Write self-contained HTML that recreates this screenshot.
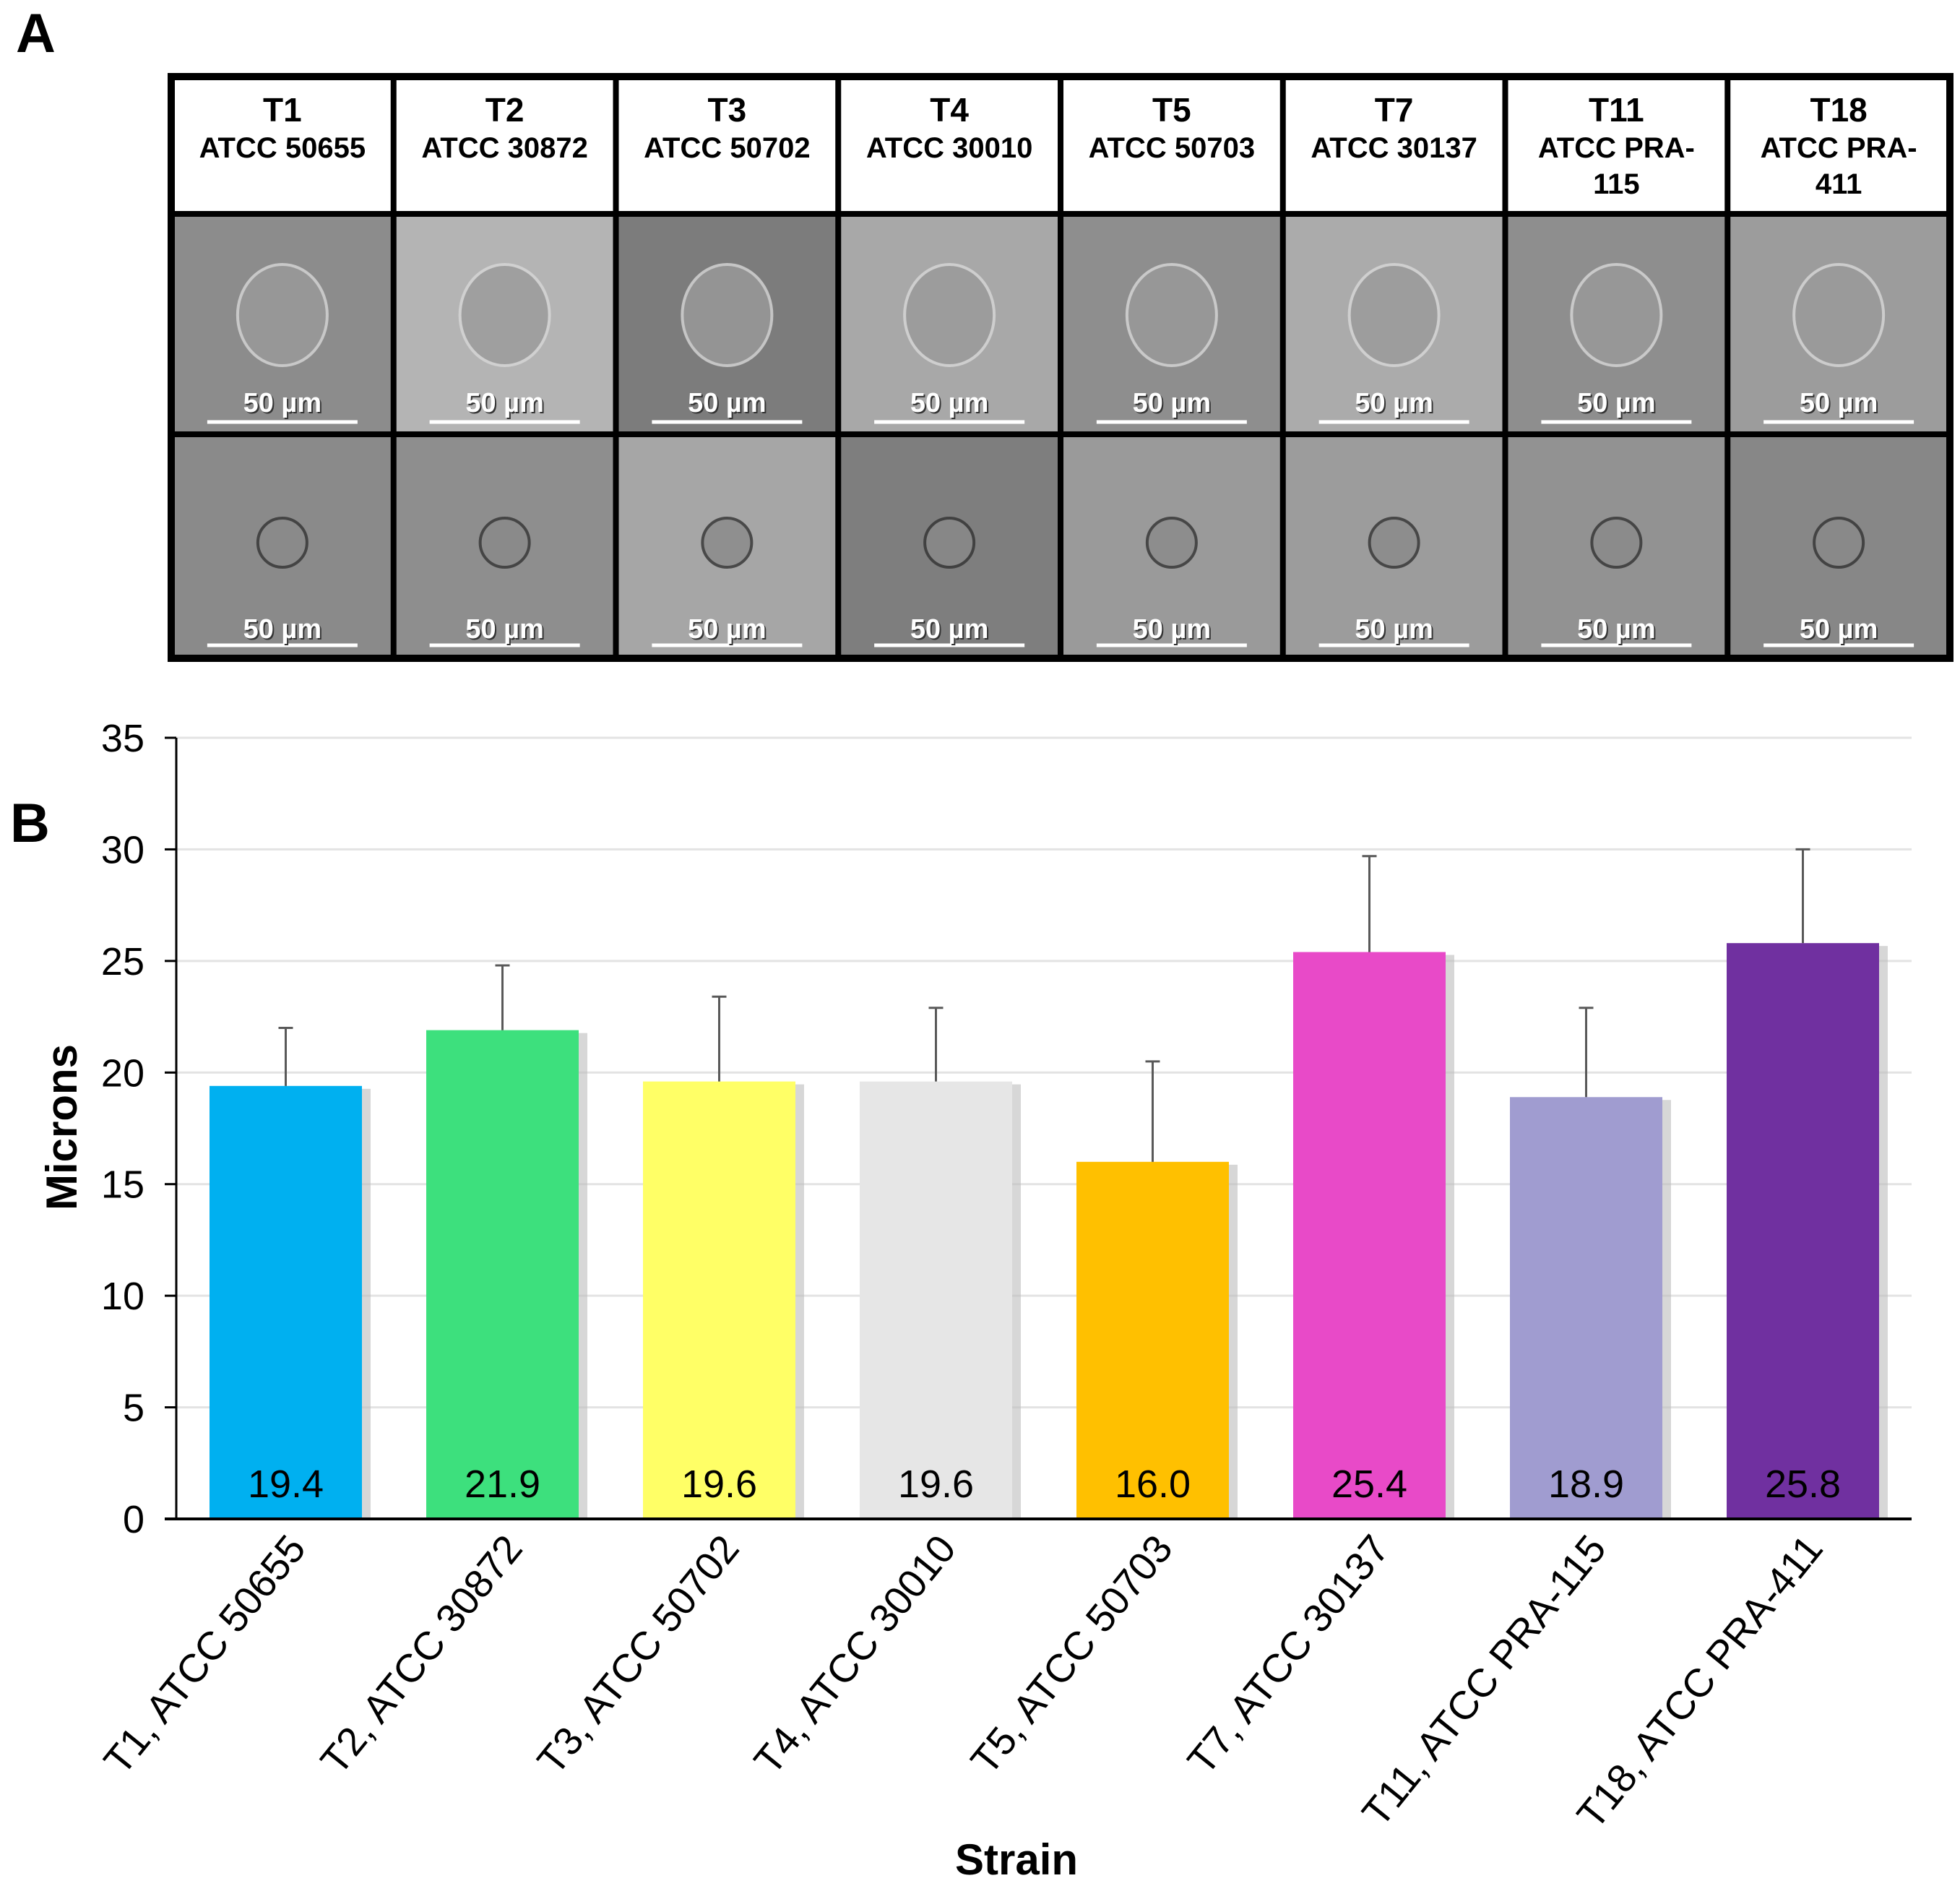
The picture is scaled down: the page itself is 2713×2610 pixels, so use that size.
<!DOCTYPE html>
<html><head><meta charset="utf-8">
<style>
html,body{margin:0;padding:0;background:#fff;}
svg{display:block;font-family:"Liberation Sans",Arial,sans-serif;}
</style></head>
<body>
<svg id="fig" width="2713" height="2610" viewBox="0 0 2713 2610" xmlns="http://www.w3.org/2000/svg">
<text x="22" y="72" font-size="76" font-weight="bold">A</text>
<g id="panelA"></g>
<text x="14" y="1165" font-size="76" font-weight="bold">B</text>
<g id="chart"></g>
</svg>
<script>
// ---- Chart data ----
const categories = ["T1, ATCC 50655","T2, ATCC 30872","T3, ATCC 50702","T4, ATCC 30010","T5, ATCC 50703","T7, ATCC 30137","T11, ATCC PRA-115","T18, ATCC PRA-411"];
const means = [19.4, 21.9, 19.6, 19.6, 16.0, 25.4, 18.9, 25.8];
const errors = [2.6, 2.9, 3.8, 3.3, 4.5, 4.3, 4.0, 4.2];
const valueLabels = ["19.4","21.9","19.6","19.6","16.0","25.4","18.9","25.8"];
const yTicks = [0,5,10,15,20,25,30,35];
const barColors = ["#00B0F0","#3DE07D","#FFFF66","#E6E6E6","#FFC000","#E84AC8","#A09CD0","#7030A0"];
// panel A headers
const headT = ["T1","T2","T3","T4","T5","T7","T11","T18"];
const headA = [["ATCC 50655"],["ATCC 30872"],["ATCC 50702"],["ATCC 30010"],["ATCC 50703"],["ATCC 30137"],["ATCC PRA-","115"],["ATCC PRA-","411"]];

const NS="http://www.w3.org/2000/svg";
function mk(tag, attrs, parent){const e=document.createElementNS(NS,tag);for(const k in attrs)e.setAttribute(k,attrs[k]);parent.appendChild(e);return e;}

// ---- Panel A ----
const pa=document.getElementById('panelA');
const L=237,R=2699,T=106,H1=296,H2=601,B=911,cw=(R-L)/8;
const bg1=["#8c8c8c","#b4b4b4","#7c7c7c","#a8a8a8","#8e8e8e","#ababab","#8e8e8e","#9c9c9c"];
const bg2=["#8a8a8a","#8e8e8e","#a6a6a6","#7e7e7e","#9a9a9a","#9c9c9c","#929292","#878787"];
for(let i=0;i<8;i++){
  const x=L+i*cw;
  const c1=mk('rect',{x:x,y:H1,width:cw,height:H2-H1,fill:bg1[i]},pa);
  
  
  const c2=mk('rect',{x:x,y:H2,width:cw,height:B-H2,fill:bg2[i]},pa);
  
  
  mk('ellipse',{cx:x+cw/2,cy:H1+140,rx:62,ry:70,fill:"#9a9a9a",stroke:"#d8d8d8","stroke-width":4,opacity:0.8},pa);
  mk('circle',{cx:x+cw/2,cy:H2+150,r:34,fill:"#8a8a8a",stroke:"#333","stroke-width":4,opacity:0.8},pa);
  const ht=mk('text',{x:x+cw/2,y:168,"text-anchor":"middle","font-size":46,"font-weight":"bold"},pa);
  ht.textContent=headT[i];
  
  
  headA[i].forEach((s,j)=>{const t=mk('text',{x:x+cw/2,y:218+j*50,"text-anchor":"middle","font-size":40,"font-weight":"bold"},pa);t.textContent=s;
    
    });
  [[H1+288,H1+274],[H2+292,H2+282]].forEach(p=>{
    mk('line',{x1:x+cw/2-104,x2:x+cw/2+104,y1:p[0],y2:p[0],stroke:"#fff","stroke-width":5},pa);
    const s=mk('text',{x:x+cw/2+2,y:p[1]+2,"text-anchor":"middle","font-size":38,"font-weight":"bold",fill:"#333"},pa);s.textContent="50 µm";
    const s2=mk('text',{x:x+cw/2,y:p[1],"text-anchor":"middle","font-size":38,"font-weight":"bold",fill:"#fff"},pa);s2.textContent="50 µm";
    
    
  });
}
for(let i=0;i<=8;i++){mk('line',{x1:L+i*cw,x2:L+i*cw,y1:T,y2:B,stroke:"#000","stroke-width":i==0||i==8?10:8},pa);}
[T,H1,H2,B].forEach((y,k)=>mk('line',{x1:L-5,x2:R+5,y1:y,y2:y,stroke:"#000","stroke-width":(k==0||k==3)?10:8},pa));

// ---- Panel B chart ----
const ch=document.getElementById('chart');
const X0=244,X1=2646,Y0=2102,Y35=1021;
const yS=v=>Y0-(v/35)*(Y0-Y35);
const pitch=300, bw=211, first=290;
const xLeft=i=>first+i*pitch;
yTicks.forEach(v=>{
  if(v>0){const g=mk('line',{x1:X0,x2:X1,y1:yS(v),y2:yS(v),stroke:"#e3e3e3","stroke-width":3},ch);
    
    }
  mk('line',{x1:X0-16,x2:X0,y1:yS(v),y2:yS(v),stroke:"#000","stroke-width":3},ch);
  const t=mk('text',{x:X0-44,y:yS(v)+19,"text-anchor":"end","font-size":54},ch);t.textContent=v;
  
  
});
means.forEach((m,i)=>{
  const x=xLeft(i), cx=x+bw/2;
  mk('rect',{x:x+6,y:yS(m)+4,width:bw+6,height:Y0-yS(m)-4,fill:"#bdbdbd",opacity:0.6},ch);
  const b=mk('rect',{x:x,y:yS(m),width:bw,height:Y0-yS(m),fill:barColors[i]},ch);
  
  
  const top=yS(m+errors[i]);
  const e=mk('line',{x1:cx,x2:cx,y1:yS(m),y2:top,stroke:"#595959","stroke-width":3},ch);
  
  
  mk('line',{x1:cx-10,x2:cx+10,y1:top,y2:top,stroke:"#595959","stroke-width":3},ch);
  const v=mk('text',{x:cx,y:Y0-30,"text-anchor":"middle","font-size":54},ch);v.textContent=valueLabels[i];
  
  
  const lx=cx+30, ly=Y0+42;
  const c=mk('text',{x:lx,y:ly,"text-anchor":"end","font-size":55,transform:`rotate(-51 ${lx} ${ly})`},ch);c.textContent=categories[i];
  
  
});
mk('line',{x1:X0,x2:X0,y1:Y35,y2:Y0,stroke:"#000","stroke-width":3},ch);
mk('line',{x1:X0-16,x2:X1,y1:Y0,y2:Y0,stroke:"#000","stroke-width":4},ch);
const yt=mk('text',{x:106,y:1560,"text-anchor":"middle","font-size":60,"font-weight":"bold",transform:"rotate(-90 106 1560)"},ch);yt.textContent="Microns";


const xt=mk('text',{x:1407,y:2594,"text-anchor":"middle","font-size":60,"font-weight":"bold"},ch);xt.textContent="Strain";


</script>
</body></html>
